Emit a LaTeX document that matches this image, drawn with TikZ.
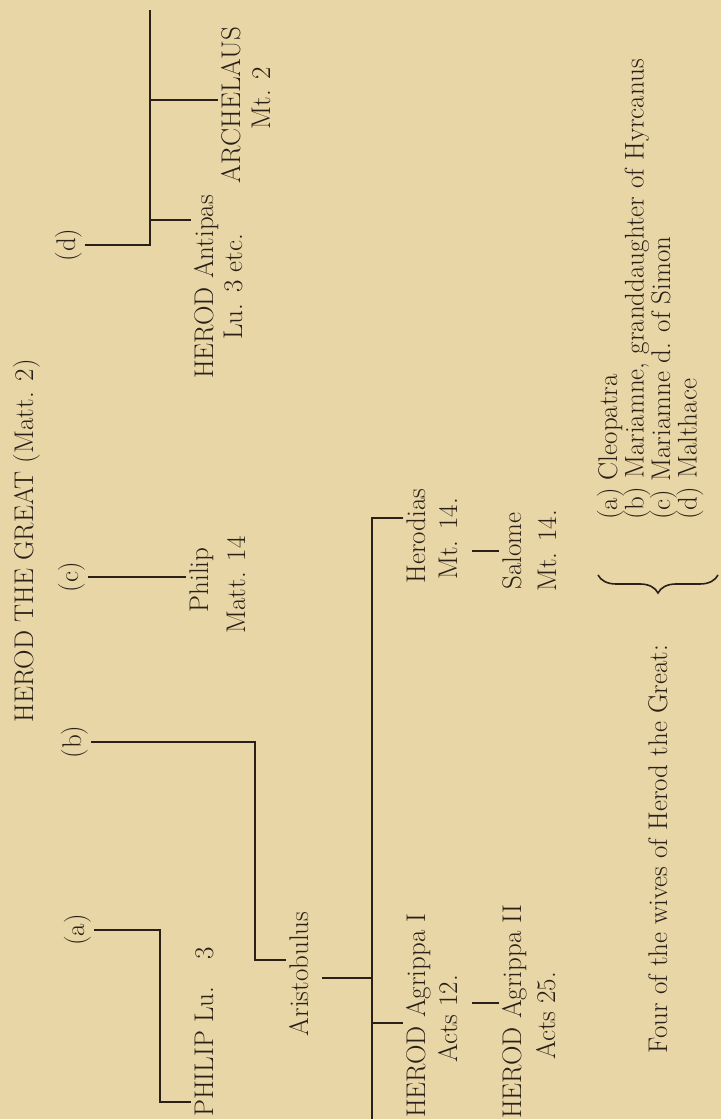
\documentclass[tikz,border=0pt]{standalone}
\usepackage{tikz}
\usetikzlibrary{calc, decorations.pathreplacing}
\definecolor{paper}{RGB}{232, 214, 166}
\definecolor{ink}{RGB}{42, 32, 24}

\begin{document}
\begin{tikzpicture}[x=1pt, y=1pt, rotate=90, transform shape,
    font=\fontsize{27}{32}\selectfont,
    txt/.style={anchor=base, inner sep=3pt, text=ink},
    tree/.style={draw=ink, line width=2.4pt},
    wivesbrace/.style={draw=ink, line width=1.6pt, decorate,
      decoration={brace, amplitude=18pt}}]
  % the page is set sideways
  \useasboundingbox (0, 0) rectangle (1119, -721);
  \fill[paper] (0, 0) rectangle (1119, -721);

  \node[txt] (title) at (578, -33) {HEROD THE GREAT (Matt. 2)};

  \node[txt] (wa) at (189, -84) {(a)};
  \node[txt] (wb) at (377, -81) {(b)};
  \node[txt] (wc) at (542, -78) {(c)};
  \node[txt] (wd) at (874, -75) {(d)};

  % (a)
  \node[txt, anchor=base west] (philip) at (-1, -213) {PHILIP Lu.\hspace{1em}3};
  \draw[tree] (wa.south) -- ++(0, -66) -| ([xshift=18pt]philip.north west);

  % (b)
  \node[txt] (aristobulus) at (145, -308) {Aristobulus};
  \draw[tree] (wb.south) -- ++(0, -164) -| ([xshift=14pt]aristobulus.north);

  \coordinate (bar) at (0, -372);
  \node[txt] (herodias) at (583, -425) {Herodias};
  \node[txt] (herodiasref) at (580, -457) {Mt. 14.};
  \draw[tree] ([xshift=18pt]herodias.north) |- (bar);
  \draw[tree, shorten <=11pt] ([xshift=-4pt]aristobulus.south) |- (bar);

  \node[txt] (salome) at (568, -521) {Salome};
  \node[txt] (salomeref) at (568, -556) {Mt. 14.};
  \draw[tree, shorten <=12pt] (herodiasref.south -| salome.north) -- (salome.north);

  \node[txt, anchor=base west] (agrippa1) at (-2, -425) {HEROD Agrippa I};
  \node[txt] (acts12) at (100, -457) {Acts 12.};
  \draw[tree] ([xshift=98pt]agrippa1.north west) |- (bar);

  \node[txt, anchor=base west] (agrippa2) at (-3, -521) {HEROD Agrippa II};
  \node[txt] (acts25) at (103, -555) {Acts 25.};
  \draw[tree, shorten <=12pt] ([xshift=16pt]acts12.south)
    -- ([xshift=16pt]acts12.south |- agrippa2.north);

  % (c)
  \node[txt] (philipc) at (539, -208) {Philip};
  \node[txt] (philipcref) at (534, -245) {Matt. 14};
  \draw[tree] (wc.south) -- (wc.south |- philipc.north);

  % (d)
  \coordinate (dbar) at (1109, -150);
  \node[txt] (antipas) at (832, -213) {HEROD Antipas};
  \node[txt] (antipasref) at (832, -242) {Lu. 3 etc.};
  \node[txt] (archelaus) at (1014, -240) {ARCHELAUS};
  \node[txt] (archelausref) at (1021, -270) {Mt. 2};
  \draw[tree] (wd.south) |- (dbar);
  \draw[tree] ([xshift=67pt]antipas.north) -- ([xshift=67pt]antipas.north |- dbar);
  \draw[tree] ([xshift=5pt]archelaus.north) -- ([xshift=5pt]archelaus.north |- dbar);

  % key
  \node[txt] (caption) at (270, -667) {Four of the wives of Herod the Great:};
  \node[txt, anchor=base west] (keya) at (596, -617) {(a) Cleopatra};
  \node[txt, anchor=base west] (keyb) at (596, -643.5) {(b) Mariamne, granddaughter of Hyrcanus};
  \node[txt, anchor=base west] (keyc) at (596, -670) {(c) Mariamne d. of Simon};
  \node[txt, anchor=base west] (keyd) at (596, -696.5) {(d) Malthace};
  \draw[wivesbrace] (544, -718) -- (544, -598);

\end{tikzpicture}
\end{document}
